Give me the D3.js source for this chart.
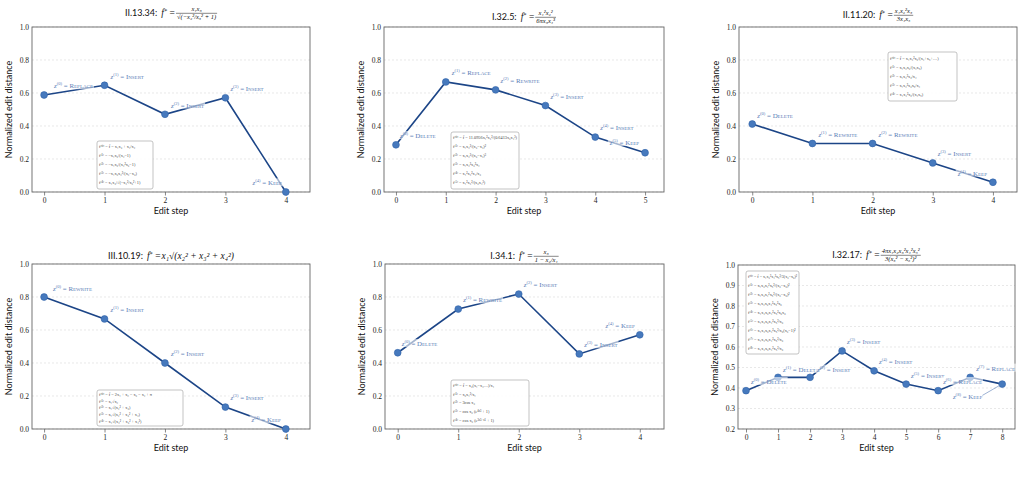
<!DOCTYPE html>
<html><head><meta charset="utf-8">
<script src="https://cdn.jsdelivr.net/npm/d3@7"></script>
<style>body{margin:0;background:#fff}</style>
</head><body><svg id="c" width="1025" height="503"></svg>
<script>
// ---------- data ----------
const distA = [0.588, 0.647, 0.471, 0.571, 0.0];
const opsA = ["Replace", "Insert", "Insert", "Insert", "Keep"];
const distB = [0.286, 0.667, 0.619, 0.524, 0.333, 0.238];
const opsB = ["Delete", "Replace", "Rewrite", "Insert", "Insert", "Keep"];
const distC = [0.412, 0.294, 0.294, 0.176, 0.059];
const opsC = ["Delete", "Rewrite", "Rewrite", "Insert", "Keep"];
const distD = [0.8, 0.667, 0.4, 0.133, 0.0];
const opsD = ["Rewrite", "Insert", "Insert", "Insert", "Keep"];
const distE = [0.462, 0.727, 0.818, 0.455, 0.571];
const opsE = ["Delete", "Rewrite", "Insert", "Insert", "Keep"];
const distF = [0.387, 0.452, 0.452, 0.581, 0.484, 0.419, 0.387, 0.452, 0.419];
const opsF = ["Delete", "Delete", "Insert", "Insert", "Insert", "Insert", "Replace", "Replace", "Keep"];

const titlesPrefix = ["II.13.34:", "I.32.5:", "II.11.20:", "III.10.19:", "I.34.1:", "I.32.17:"];
const titlesNum = ["x₁x₃", "x₁²x₂²", "x₁x₂²x₃", null, "x₃", "4πx₁x₂x₃²x₄²x₅²"];
const titlesDen = ["√(−x₂²/x₃² + 1)", "6πx₃x₄³", "3x₄x₅", null, "1 − x₂/x₁", "3(x₃² − x₆²)²"];
const titlesInline = [null, null, null, "x₁√(x₂² + x₃² + x₄²)", null, null];

const formulasA = ["f⁽⁰⁾ = f̂ = x₁x₃ + x₄/x₂", "f⁽¹⁾ = −x₁x₃/(x₂−1)", "f⁽²⁾ = −x₁x₃/(x₂²x₃−1)", "f⁽³⁾ = −x₁x₃x₂²/(x₂−x₃)", "f⁽⁴⁾ = x₁x₃/√(−x₂²/x₃²+1)"];
const formulasB = ["f⁽⁰⁾ = f̂ = 11.0956x₁²x₂²/(0.6413x₃x₄³)", "f⁽¹⁾ = x₁x₂²/(x₃−x₄)²", "f⁽²⁾ = x₁x₂²/(x₃−x₄)³", "f⁽³⁾ = x₁x₂²x₃²x₄", "f⁽⁴⁾ = x₁²x₂²x₄/x₃", "f⁽⁵⁾ = x₁²x₂²/(x₃x₄³)"];
const formulasC = ["f⁽⁰⁾ = f̂ = x₁x₂²x₃/(x₄+x₅+…)", "f⁽¹⁾ = x₁x₂x₃/(x₄x₅)", "f⁽²⁾ = x₁x₂²x₃/x₄", "f⁽³⁾ = x₁x₂²x₃x₅/x₄", "f⁽⁴⁾ = x₁x₂²x₃/(x₄x₅)"];
const formulasD = ["f⁽⁰⁾ = f̂ = 2x₁ + x₂ − x₃ − x₄ + π", "f⁽¹⁾ = x₁√x₂", "f⁽²⁾ = x₁√(x₂² + x₃)", "f⁽³⁾ = x₁√(x₂² + x₃² + x₄)", "f⁽⁴⁾ = x₁√(x₂² + x₃² + x₄²)"];
const formulasE = ["f⁽⁰⁾ = f̂ = x₃(x₁−x₂…)/x₁", "f⁽¹⁾ = x₃x₁²/x₁", "f⁽²⁾ = 3cos x₃", "f⁽³⁾ = cos x₃ (e⁴ˣ³ + 1)", "f⁽⁴⁾ = cos x₃ (e³ˣ³ᐟˣ¹ + 1)"];
const formulasF = ["f⁽⁰⁾ = f̂ = x₁x₃²x₄²x₅²/3(x₃−x₆)²", "f⁽¹⁾ = x₁x₃x₄²x₅²/(x₃−x₆)²", "f⁽²⁾ = x₁x₃x₄²x₅²/(x₃−x₆)²", "f⁽³⁾ = x₁x₂x₃x₄²x₅²x₆", "f⁽⁴⁾ = x₁x₂x₃x₄²x₅²x₆x₆", "f⁽⁵⁾ = x₁x₂x₃x₄²x₅²/x₆", "f⁽⁶⁾ = x₁x₂x₃x₄²x₅²/x₆(x₃−1)²", "f⁽⁷⁾ = x₁x₂x₃x₄²x₅²/x₆", "f⁽⁸⁾ = x₁x₂x₃x₄²x₅²/x₆"];

const yTicks01 = [0, 0.2, 0.4, 0.6, 0.8, 1.0];
const yTicks02 = [0.2, 0.3, 0.4, 0.5, 0.6, 0.7, 0.8, 0.9, 1.0];

// ---------- layout (positions / styling) ----------
const panels = [
  {dist: distA, ops: opsA, formulas: formulasA, ti: 0, yTicks: yTicks01, yDom: [0, 1],
   L: 32, T: 27, W: 278, H: 165, xDom: [-0.2, 4.4], box: [97, 141, 56, 48], barY: 13,
   lab: [[10,-9,'start'],[6,-9,'start'],[6,-9,'start'],[5,-9,'start'],[-4,-9,'end']]},
  {dist: distB, ops: opsB, formulas: formulasB, ti: 1, yTicks: yTicks01, yDom: [0, 1],
   L: 384, T: 27, W: 280, H: 165, xDom: [-0.24, 5.38], box: [451, 132, 68, 57], barY: 17,
   lab: [[4,-9,'start'],[6,-9,'start'],[5,-9,'start'],[5,-9,'start'],[5,-9,'start'],[-6,-10,'end']]},
  {dist: distC, ops: opsC, formulas: formulasC, ti: 2, yTicks: yTicks01, yDom: [0, 1],
   L: 739, T: 27, W: 278, H: 165, xDom: [-0.22, 4.4], box: [888, 52, 69, 49], barY: 15,
   lab: [[5,-8,'start'],[6,-9,'start'],[6,-9,'start'],[5,-9,'start'],[-6,-9,'end']]},
  {dist: distD, ops: opsD, formulas: formulasD, ti: 3, yTicks: yTicks01, yDom: [0, 1],
   L: 32, T: 264, W: 278, H: 165, xDom: [-0.2, 4.4], box: [97, 390, 86, 36], barY: 256,
   lab: [[9,-8,'start'],[6,-9,'start'],[6,-9,'start'],[5,-9,'start'],[-5,-9,'end']]},
  {dist: distE, ops: opsE, formulas: formulasE, ti: 4, yTicks: yTicks01, yDom: [0, 1],
   L: 385, T: 264, W: 279, H: 165, xDom: [-0.21, 4.4], box: [451, 380, 78, 46], barY: 256,
   lab: [[4,-9,'start'],[5,-9,'start'],[5,-9,'start'],[5,-9,'start'],[-5,-9,'end']]},
  {dist: distF, ops: opsF, formulas: formulasF, ti: 5, yTicks: yTicks02, yDom: [0.2, 1],
   L: 738, T: 265, W: 277, H: 164, xDom: [-0.25, 8.4], box: [746, 271, 53, 83], barY: 255,
   lab: [[5,-9,'start'],[5,-8,'start'],[7,-8,'start'],[5,-9,'start'],[5,-9,'start'],[5,-8,'start'],[5,-9,'start'],[6,-9,'start'],[-20,13,'end','arrow']]}
];

const SERIF = "'Liberation Serif','DejaVu Serif',serif";
const SANS = "Lato,'DejaVu Sans',sans-serif";
const LINE = "#1c4587";
const MARK = "#4679bd";
const LABEL = "#5a7db6";

const svg = d3.select("#c");

function drawTitle(p) {
  const i = p.ti;
  const cx = p.L + p.W / 2;
  const y = p.barY;
  const g = svg.append("g");
  const pre = g.append("text").attr("x", 0).attr("y", y + 3)
    .attr("font-family", SANS).attr("font-size", 9).attr("fill", "#111").text(titlesPrefix[i]);
  let x = pre.node().getComputedTextLength() + 4;
  const lhs = g.append("text").attr("x", x).attr("y", y + 3)
    .attr("font-family", SERIF).attr("font-size", 9.5).attr("fill", "#111");
  lhs.append("tspan").attr("font-style", "italic").text("f");
  lhs.append("tspan").attr("font-size", 6.5).attr("dy", -3.5).text("*");
  lhs.append("tspan").attr("dy", 3.5).text(" = ");
  x += lhs.node().getComputedTextLength() + 1;
  if (titlesNum[i]) {
    const num = g.append("text").attr("y", y - 1.8).attr("font-family", SERIF)
      .attr("font-size", 6.5).attr("font-style", "italic").attr("fill", "#111").attr("text-anchor", "middle").text(titlesNum[i]);
    const den = g.append("text").attr("y", y + 6.3).attr("font-family", SERIF)
      .attr("font-size", 6.5).attr("font-style", "italic").attr("fill", "#111").attr("text-anchor", "middle").text(titlesDen[i]);
    const w = Math.max(num.node().getComputedTextLength(), den.node().getComputedTextLength()) + 2;
    num.attr("x", x + w / 2); den.attr("x", x + w / 2);
    g.append("line").attr("x1", x).attr("x2", x + w).attr("y1", y + 0.3).attr("y2", y + 0.3)
      .attr("stroke", "#111").attr("stroke-width", 0.5);
  } else {
    g.append("text").attr("x", x).attr("y", y + 3).attr("font-family", SERIF)
      .attr("font-size", 9.5).attr("font-style", "italic").attr("fill", "#111").text(titlesInline[i]);
  }
  const bb = g.node().getBBox();
  g.attr("transform", `translate(${cx - (bb.x + bb.width / 2)},0)`);
}

function drawPanel(p) {
  const steps = d3.range(p.dist.length);
  const x = d3.scaleLinear().domain(p.xDom).range([p.L, p.L + p.W]);
  const y = d3.scaleLinear().domain(p.yDom).range([p.T + p.H, p.T]);
  const g = svg.append("g");

  // grid
  g.selectAll(".grid").data(p.yTicks).join("line")
    .attr("x1", p.L).attr("x2", p.L + p.W).attr("y1", d => y(d)).attr("y2", d => y(d))
    .attr("stroke", "#d9d9d9").attr("stroke-width", 0.6).attr("stroke-dasharray", "2,2");

  // axes
  const xa = g.append("g").attr("transform", `translate(0,${p.T + p.H})`)
    .call(d3.axisBottom(x).tickValues(steps).tickSize(3.5).tickPadding(2.5).tickFormat(d3.format("d")));
  xa.select(".domain").remove();
  xa.selectAll("line").attr("stroke", "#555").attr("stroke-width", 0.7);
  xa.selectAll("text").attr("font-family", SERIF).attr("font-size", 7.5).attr("fill", "#222");
  const ya = g.append("g").attr("transform", `translate(${p.L},0)`)
    .call(d3.axisLeft(y).tickValues(p.yTicks).tickSize(0).tickPadding(3).tickFormat(d3.format(".1f")));
  ya.select(".domain").remove();
  ya.selectAll("text").attr("font-family", SERIF).attr("font-size", 7.5).attr("fill", "#222");

  g.append("rect").attr("x", p.L).attr("y", p.T).attr("width", p.W).attr("height", p.H)
    .attr("fill", "none").attr("stroke", "#666").attr("stroke-width", 0.9);

  // axis labels
  g.append("text").attr("transform", `translate(${p.L - 22},${p.T + p.H / 2}) rotate(-90)`)
    .attr("text-anchor", "middle").attr("dominant-baseline", "middle")
    .attr("font-family", SANS).attr("font-size", 9).attr("fill", "#111").text("Normalized edit distance");
  g.append("text").attr("x", p.L + p.W / 2).attr("y", p.T + p.H + 22)
    .attr("text-anchor", "middle").attr("font-family", SANS).attr("font-size", 9).attr("fill", "#111").text("Edit step");

  // line
  g.append("path").datum(p.dist)
    .attr("d", d3.line().x((d, i) => x(i)).y(d => y(d)))
    .attr("fill", "none").attr("stroke", LINE).attr("stroke-width", 1.6);
  g.selectAll(".pt").data(p.dist).join("circle")
    .attr("cx", (d, i) => x(i)).attr("cy", d => y(d)).attr("r", 3.4)
    .attr("fill", MARK).attr("stroke", "#2f62a8").attr("stroke-width", 0.6);

  // formula box
  const [bx, by, bw, bh] = p.box;
  g.append("rect").attr("x", bx).attr("y", by).attr("width", bw).attr("height", bh).attr("rx", 2)
    .attr("fill", "#fff").attr("fill-opacity", 0.85).attr("stroke", "#aaa").attr("stroke-width", 0.7);
  const lh = (bh - 3) / p.formulas.length;
  p.formulas.forEach((f, i) => {
    const t = g.append("text").attr("x", bx + 2).attr("y", by + 2 + lh * (i + 0.5))
      .attr("dominant-baseline", "middle").attr("font-family", SERIF).attr("font-size", 4.3)
      .attr("fill", "#444").text(f);
    const len = t.node().getComputedTextLength();
    if (len > bw - 4) t.attr("textLength", bw - 4).attr("lengthAdjust", "spacingAndGlyphs");
  });

  // labels
  p.ops.forEach((op, i) => {
    const [dx, dy, anchor, arrow] = p.lab[i];
    const px = x(i), py = y(p.dist[i]);
    const lg = g.append("g");
    const t = lg.append("text").attr("x", px + dx).attr("y", py + dy + 2.3)
      .attr("text-anchor", anchor).attr("font-family", SERIF).attr("font-size", 6.9).attr("fill", LABEL);
    t.append("tspan").attr("font-style", "italic").text("z");
    t.append("tspan").attr("font-size", 4.6).attr("dy", -3).text(`(${i})`);
    t.append("tspan").attr("dy", 3).text(" = ");
    t.append("tspan").style("font-variant", "small-caps").text(op);
    const bb = t.node().getBBox();
    lg.insert("rect", "text").attr("x", bb.x - 1).attr("y", bb.y).attr("width", bb.width + 2).attr("height", bb.height)
      .attr("fill", "#fff").attr("fill-opacity", 0.6);
    if (arrow) {
      lg.append("line").attr("x1", bb.x + bb.width).attr("y1", bb.y + bb.height / 2 - 1)
        .attr("x2", px - 2).attr("y2", py + 1).attr("stroke", LABEL).attr("stroke-width", 0.6);
    }
  });

  drawTitle(p);
}

panels.forEach(drawPanel);
</script>
</body></html>
